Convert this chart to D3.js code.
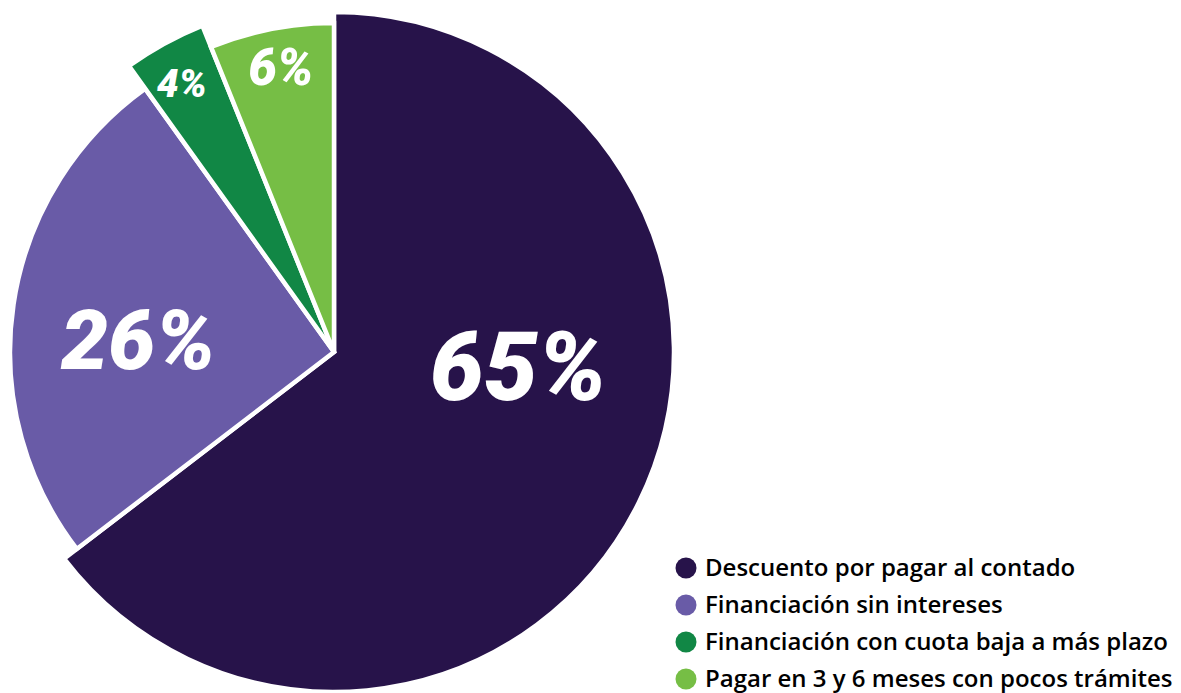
<!DOCTYPE html>
<html>
<head>
<meta charset="utf-8">
<script src="https://cdn.jsdelivr.net/npm/d3@7"></script>
<style>
html,body{margin:0;padding:0;background:#fff;}
svg{display:block;}
</style>
</head>
<body>
<svg id="chart" width="1181" height="693"></svg>
<script>
// ---- data ----
const categories = [
  "Descuento por pagar al contado",
  "Financiación sin intereses",
  "Financiación con cuota baja a más plazo",
  "Pagar en 3 y 6 meses con pocos trámites"
];
const values = [64.6, 25.5, 3.8, 6.1];
const valueLabels = ["65%", "26%", "4%", "6%"];

// ---- styles ----
const colors = ["#27134A", "#695BA7", "#118745", "#76BE45"];
const outerRadii = [340, 324, 352, 329];
const labelFontSizes = [96, 84, 39, 51];
const labelPolar = [[94.7, 185], [273.5, 196], [330.4, 308], [349.4, 289]]; // [deg, r]

const svg = d3.select("#chart");
const cx = 334, cy = 352;

const pie = d3.pie().sort(null).value(d => d)(values);
const g = svg.append("g").attr("transform", `translate(${cx},${cy})`);

g.selectAll("path.slice")
  .data(pie)
  .join("path")
  .attr("class", "slice")
  .attr("d", (d, i) => d3.arc().innerRadius(0).outerRadius(outerRadii[i])(d))
  .attr("fill", (d, i) => colors[i])
  .attr("stroke", "#fff")
  .attr("stroke-width", 4.5)
  .attr("stroke-linejoin", "miter");

g.selectAll("text.val")
  .data(pie)
  .join("text")
  .attr("class", "val")
  .attr("x", (d, i) => labelPolar[i][1] * Math.sin(labelPolar[i][0] * Math.PI / 180))
  .attr("y", (d, i) => -labelPolar[i][1] * Math.cos(labelPolar[i][0] * Math.PI / 180))
  .attr("text-anchor", "middle")
  .attr("dominant-baseline", "central")
  .attr("fill", "#fff")
  .style("font-family", "Roboto, 'Liberation Sans', sans-serif")
  .style("font-weight", 900)
  .style("font-style", "italic")
  .style("font-size", (d, i) => labelFontSizes[i] + "px")
  .text((d, i) => valueLabels[i]);

// legend
const legend = svg.append("g").attr("transform", "translate(686,568)");
const row = d3.scaleBand().domain(d3.range(categories.length)).range([0, 148]);
const items = legend.selectAll("g.item")
  .data(categories)
  .join("g")
  .attr("class", "item")
  .attr("transform", (d, i) => `translate(0,${row(i)})`);
items.append("circle")
  .attr("r", 10.5)
  .attr("fill", (d, i) => colors[i]);
items.append("text")
  .attr("x", 19)
  .attr("dy", "0.35em")
  .attr("fill", "#000")
  .style("font-family", "'Open Sans', sans-serif")
  .style("font-weight", 600)
  .style("font-size", "24px")
  .text(d => d);
</script>
</body>
</html>
